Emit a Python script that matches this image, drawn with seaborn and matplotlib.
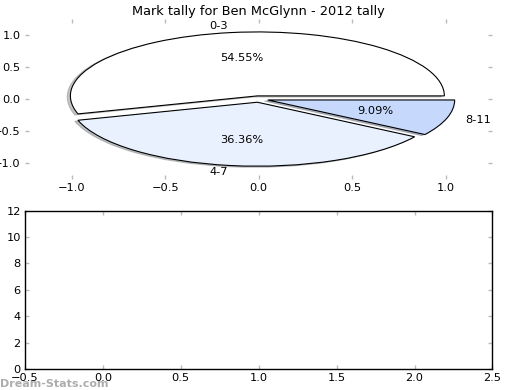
import matplotlib
matplotlib.use('agg')

import matplotlib.pyplot as plt
import seaborn as sns

# data (marks per game buckets)
labels = ['0-3', '4-7', '8-11']
games = [6, 4, 1]
colours = ['#ffffff', '#e9f1fe', '#c6d9fd']

sns.set_style('white')
plt.rcParams['font.family'] = ['DejaVu Sans']
plt.rcParams['text.color'] = 'black'
plt.rcParams['axes.labelcolor'] = 'black'

fig = plt.figure(figsize=(5.2, 3.9), dpi=100)
ax1 = fig.add_axes([0.048, 0.541, 0.899, 0.41])
ax2 = fig.add_axes([0.048, 0.054, 0.899, 0.406])

ax1.pie(games, labels=labels, colors=colours, explode=[0.05] * 3,
        autopct='%1.2f%%',
        shadow={'ox': -0.012, 'oy': -0.012, 'shade': 0.45},
        frame=True,
        wedgeprops={'edgecolor': 'black', 'linewidth': 0.8},
        textprops={'fontsize': 8.2, 'color': 'black'})
ax1.set_aspect('auto')
ax1.set_xlim(-1.25, 1.25)
ax1.set_ylim(-1.25, 1.25)
ax1.set_xticks([-1.0, -0.5, 0.0, 0.5, 1.0])
ax1.set_yticks([-1.0, -0.5, 0.0, 0.5, 1.0])
for s in ax1.spines.values():
    s.set_visible(False)
ax1.set_title('Mark tally for Ben McGlynn - 2012 tally', fontsize=9.3,
              color='black', pad=3)

ax2.set_xlim(-0.5, 2.5)
ax2.set_ylim(0, 12)
ax2.set_xticks([-0.5, 0.0, 0.5, 1.0, 1.5, 2.0, 2.5])
ax2.set_yticks([0, 2, 4, 6, 8, 10, 12])
for s in ax2.spines.values():
    s.set_visible(True)
    s.set_color('black')
    s.set_linewidth(1.0)

for ax in (ax1, ax2):
    ax.tick_params(direction='in', length=3, width=1, color='#bbbbbb',
                   top=True, right=True, left=True, bottom=True,
                   labelsize=8.2, labelcolor='black', pad=3)
    ax.set_xticklabels(['\u2212' + f'{abs(t):.1f}' if t < 0 else f'{t:.1f}'
                        for t in ax.get_xticks()])

fig.text(0.0, 0.003, 'Dream-Stats.com', fontsize=8, color='#999999',
         fontweight='bold', alpha=0.8, va='bottom', ha='left')

fig.savefig('out.png', dpi=100)
